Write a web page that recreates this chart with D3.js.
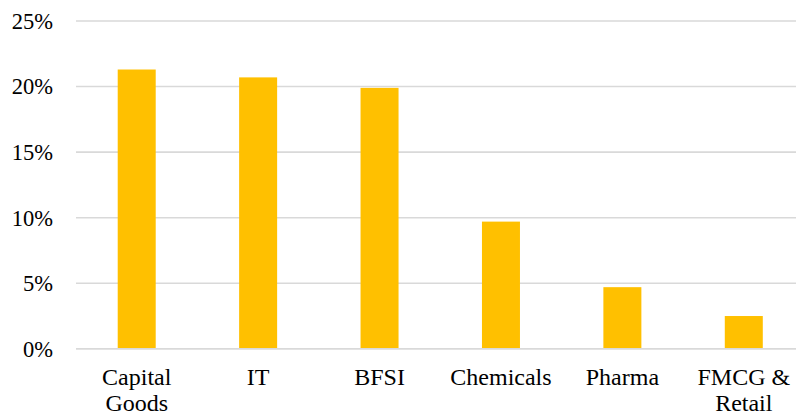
<!DOCTYPE html>
<html>
<head>
<meta charset="utf-8">
<script src="https://cdn.jsdelivr.net/npm/d3@7"></script>
</head>
<body style="margin:0">
<svg id="chart" width="796" height="411" font-family="Liberation Serif"></svg>
<script>
// Sector share (%)
const categories = ["Capital Goods", "IT", "BFSI", "Chemicals", "Pharma", "FMCG & Retail"];
const categoryLines = [["Capital", "Goods"], ["IT"], ["BFSI"], ["Chemicals"], ["Pharma"], ["FMCG &", "Retail"]];
const values = [21.3, 20.7, 19.9, 9.7, 4.7, 2.5];
const yTicks = [0, 5, 10, 15, 20, 25];

const svg = d3.select("#chart");
const plotLeft = 76, plotRight = 804.5, plotTop = 21, plotBottom = 348.8;

const x = d3.scaleBand().domain(categories).range([plotLeft, plotRight])
  .paddingInner(0.687).paddingOuter(0.3435);
const y = d3.scaleLinear().domain([0, 25]).range([plotBottom, plotTop]);

// Horizontal gridlines
svg.append("g").selectAll("line").data(yTicks).join("line")
  .attr("x1", plotLeft).attr("x2", 796)
  .attr("y1", d => y(d)).attr("y2", d => y(d))
  .attr("stroke", "#d9d9d9").attr("stroke-width", 1.6);

// Y tick labels
svg.append("g").selectAll("text").data(yTicks).join("text")
  .attr("x", 53).attr("y", d => y(d)).attr("dy", "0.35em")
  .attr("text-anchor", "end")
  .style("font-family", '"Liberation Serif"')
  .attr("font-size", 22.5)
  .text(d => d + "%");

// Bars
svg.append("g").selectAll("rect").data(values).join("rect")
  .attr("x", (d, i) => x(categories[i]))
  .attr("width", x.bandwidth())
  .attr("y", d => y(d))
  .attr("height", d => y(0) - y(d))
  .attr("fill", "#FFC000");

// Baseline drawn over the bars
svg.append("line")
  .attr("x1", plotLeft).attr("x2", 796)
  .attr("y1", y(0)).attr("y2", y(0))
  .attr("stroke", "#d9d9d9").attr("stroke-width", 1.6);

// Category labels, one tspan per line
const labels = svg.append("g").selectAll("text").data(categories).join("text")
  .attr("text-anchor", "middle")
  .style("font-family", '"Liberation Serif"')
  .attr("font-size", 24)
  .attr("transform", d => `translate(${x(d) + x.bandwidth() / 2},385)`);
labels.each(function (d, i) {
  const t = d3.select(this);
  categoryLines[i].forEach((line, j) => {
    t.append("tspan").attr("x", 0).attr("y", j * 26).text(line);
  });
});
</script>
</body>
</html>
